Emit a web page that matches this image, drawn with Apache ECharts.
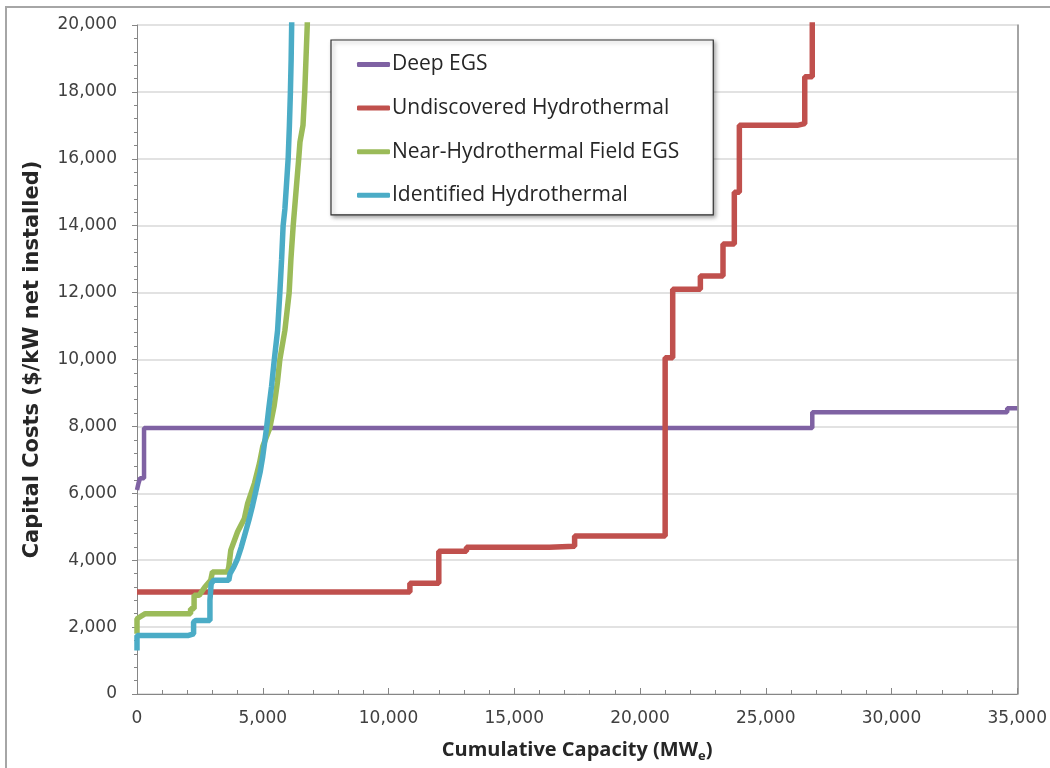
<!DOCTYPE html>
<html>
<head>
<meta charset="utf-8">
<script src="https://cdn.jsdelivr.net/npm/echarts@6/dist/echarts.min.js"></script>
<style>
  html, body { margin: 0; padding: 0; background: #fff; }
  #chart { width: 1050px; height: 768px; }
</style>
</head>
<body>
<div id="chart"></div>
<script>
// capital cost supply curves: [cumulative MWe, $/kW]
const seriesNames = ['Deep EGS', 'Undiscovered Hydrothermal', 'Near-Hydrothermal Field EGS', 'Identified Hydrothermal'];
const seriesColors = ['#7f62a3', '#c0504d', '#9bbb59', '#4bacc6'];

const deepEgs = [
  [0, 6100], [60, 6300], [120, 6450], [280, 6450], [280, 7950],
  [26850, 7950], [26850, 8420], [34600, 8420], [34600, 8540], [35000, 8540]
];
const undiscovered = [
  [0, 3050], [10850, 3050], [10850, 3310], [12000, 3310], [12000, 4270],
  [13100, 4270], [13100, 4390], [16400, 4390], [16400, 4420], [17400, 4420],
  [17400, 4720], [21000, 4720], [21000, 10050], [21300, 10050], [21300, 12100],
  [22400, 12100], [22400, 12500], [23300, 12500], [23300, 13450], [23750, 13450],
  [23750, 15000], [23950, 15000], [23950, 17000], [26250, 17000], [26250, 17050],
  [26550, 17050], [26550, 18450], [26850, 18450], [26850, 20500]
];
const nearField = [
  [0, 1800], [0, 2250], [70, 2250], [330, 2400], [2130, 2400], [2130, 2550],
  [2270, 2550], [2270, 2950], [2470, 2950], [2700, 3200], [2930, 3400], [3000, 3650],
  [3600, 3650], [3650, 3800], [3730, 4300], [4000, 4850], [4270, 5250], [4400, 5700],
  [4670, 6300], [4870, 6900], [5000, 7400], [5280, 7950], [5450, 8600], [5580, 9300],
  [5680, 10000], [5880, 10870], [6050, 12000], [6120, 13000], [6210, 14000],
  [6320, 15000], [6430, 16000], [6480, 16500], [6600, 17000], [6670, 18000],
  [6720, 19000], [6770, 20000], [6780, 20500]
];
const identified = [
  [0, 1300], [0, 1750], [2050, 1750], [2050, 1800], [2250, 1800], [2250, 2150],
  [2350, 2200], [2900, 2200], [2900, 2800], [2950, 3300], [3050, 3400], [3650, 3400],
  [3700, 3600], [3850, 3800], [4000, 4050], [4150, 4400], [4300, 4800], [4450, 5200],
  [4600, 5650], [4750, 6150], [4900, 6650], [5000, 7100], [5150, 7950], [5250, 8600],
  [5350, 9200], [5460, 10000], [5590, 10870], [5680, 12000], [5750, 13000],
  [5810, 14000], [5880, 14500], [5950, 15300], [6010, 16000], [6060, 17000],
  [6100, 18000], [6130, 19000], [6150, 20000], [6160, 20500]
];
const seriesData = [deepEgs, undiscovered, nearField, identified];
const lineWidths = [4.5, 5.5, 5.5, 5.5];

const fmt = v => v.toLocaleString('en-US');
const chart = echarts.init(document.getElementById('chart'));

chart.setOption({
  animation: false,
  backgroundColor: '#fff',
  graphic: [{
    type: 'rect',
    shape: { x: 6, y: 7, width: 1100, height: 800 },
    style: { fill: 'none', stroke: '#a6a6a6', lineWidth: 2 },
    silent: true
  }],
  grid: { left: 137, right: 31, top: 25, bottom: 60 },
  legend: {
    orient: 'vertical',
    left: 331,
    top: 40,
    data: seriesNames,
    icon: 'roundRect',
    itemWidth: 33,
    itemHeight: 5,
    itemGap: 22.6,
    padding: [14, 34, 9, 26],
    backgroundColor: '#fff',
    borderColor: '#333',
    borderWidth: 1.2,
    borderRadius: 0,
    shadowBlur: 4,
    shadowOffsetX: 2,
    shadowOffsetY: 2,
    shadowColor: 'rgba(0,0,0,0.35)',
    textStyle: { fontFamily: 'Open Sans', fontSize: 21, color: '#262626', padding: [0, 0, 0, -3] }
  },
  xAxis: {
    type: 'value',
    min: 0, max: 35000, interval: 5000,
    name: '{t|Cumulative Capacity (MW}{s|e}{t|)}',
    nameLocation: 'middle',
    nameGap: 44,
    nameTextStyle: {
      rich: {
        t: { fontFamily: 'Open Sans', fontWeight: 'bold', fontSize: 20, color: '#262626' },
        s: { fontFamily: 'Open Sans', fontWeight: 'bold', fontSize: 13, color: '#262626', padding: [12, 0, 0, 0] }
      }
    },
    axisLine: { lineStyle: { color: '#868686', width: 1 } },
    axisTick: { inside: true, length: 6, lineStyle: { color: '#868686' } },
    minorTick: { show: true, splitNumber: 5, length: 4, lineStyle: { color: '#868686' } },
    splitLine: { show: false },
    axisLabel: { formatter: fmt, fontFamily: 'DejaVu Sans', fontSize: 17, color: '#404040', margin: 16 }
  },
  yAxis: [{
    type: 'value',
    min: 0, max: 20000, interval: 2000,
    name: 'Capital Costs ($/kW net installed)',
    nameLocation: 'middle',
    nameGap: 94,
    nameTextStyle: { fontFamily: 'DejaVu Sans', fontWeight: 'bold', fontSize: 21, color: '#262626' },
    axisLine: { show: true, lineStyle: { color: '#868686', width: 1 } },
    axisTick: { show: true, length: 5, lineStyle: { color: '#868686' } },
    minorTick: { show: true, splitNumber: 5, length: 3, lineStyle: { color: '#868686' } },
    splitLine: { lineStyle: { color: '#d9d9d9', width: 1.5 } },
    axisLabel: { formatter: fmt, fontFamily: 'DejaVu Sans', fontSize: 17, color: '#404040', margin: 20 }
  }, {
    type: 'value',
    position: 'right',
    min: 0, max: 20000, interval: 2000,
    axisLine: { show: true, lineStyle: { color: '#868686', width: 1.5 } },
    axisTick: { show: false },
    axisLabel: { show: false },
    splitLine: { show: false }
  }],
  series: seriesNames.map((name, i) => ({
    name: name,
    type: 'line',
    data: seriesData[i],
    symbol: 'none',
    color: seriesColors[i],
    lineStyle: { width: lineWidths[i], color: seriesColors[i] },
    clip: true
  }))
});
</script>
</body>
</html>
